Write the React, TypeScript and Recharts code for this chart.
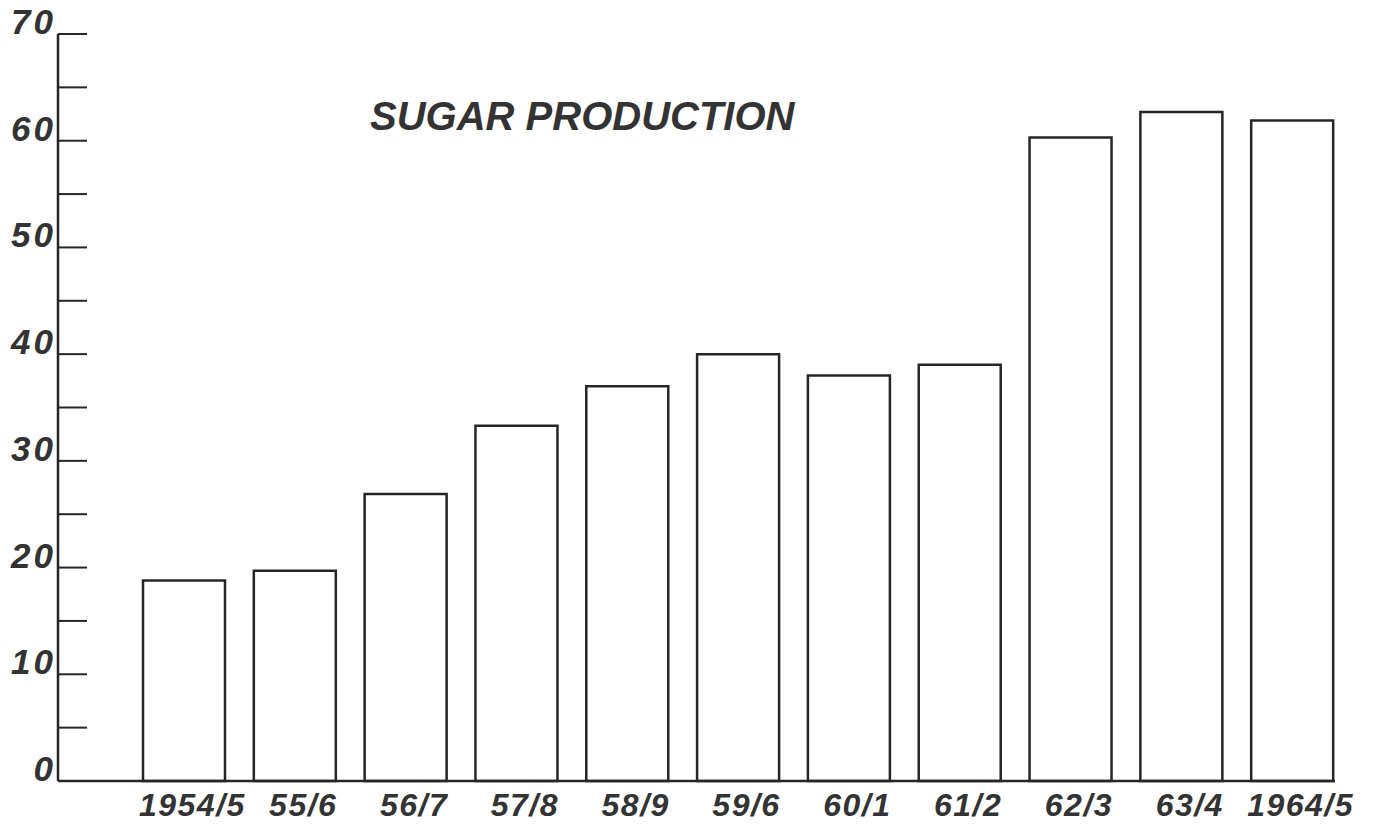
import { BarChart, Bar, XAxis, YAxis } from 'recharts'

const seasons = ['1954/5', '55/6', '56/7', '57/8', '58/9', '59/6', '60/1', '61/2', '62/3', '63/4', '1964/5']
const production = [18.8, 19.7, 26.9, 33.3, 37.0, 40.0, 38.0, 39.0, 60.3, 62.7, 61.9]
const yTicks = [0, 5, 10, 15, 20, 25, 30, 35, 40, 45, 50, 55, 60, 65, 70]
const title = 'SUGAR PRODUCTION'

const ink = '#262626'
const lettering = 'Liberation Sans'

function YTick(props: any) {
  const { x, y, payload } = props
  const v = payload.value as number
  return (
    <g>
      <line x1={x} x2={x + 29} y1={y} y2={y} stroke={ink} strokeWidth={2} />
      {v % 10 === 0 && (
        <text x={x - 2} y={y} textAnchor="end" fontFamily={lettering} fontStyle="italic"
          fontWeight="bold" fontSize={35} letterSpacing={3} fill="#333">
          {v}
        </text>
      )}
    </g>
  )
}

function XTick(props: any) {
  const { x, y, payload } = props
  return (
    <text x={x + 8} y={y + 35} textAnchor="middle" fontFamily={lettering} fontStyle="italic"
      fontWeight="bold" fontSize={32} letterSpacing={1.5} fill="#333">
      {payload.value}
    </text>
  )
}

export default function App() {
  const data = seasons.map((s, i) => ({ season: s, value: production[i] }))

  return (
    <div style={{ width: 1383, height: 824, background: '#fff' }}>
      <style>{'body{margin:0}'}</style>
      <BarChart width={1383} height={824} data={data}
        margin={{ top: 34, right: 35, bottom: 0, left: 0 }}>
        <XAxis dataKey="season" height={43} padding={{ left: 71, right: 0 }}
          tickLine={false} tickSize={0} tickMargin={0} interval={0} tick={<XTick />}
          axisLine={{ stroke: ink, strokeWidth: 2.5, strokeDasharray: '1277 300' }} />
        <YAxis width={58} domain={[0, 70]} ticks={yTicks} interval={0}
          tickLine={false} tickSize={0} tickMargin={0} tick={<YTick />}
          axisLine={{ stroke: ink, strokeWidth: 2.5 }} />
        <Bar dataKey="value" barSize={82} fill="#fff" stroke={ink} strokeWidth={2.5}
          isAnimationActive={false} />
        <text x={370} y={130} fontFamily={lettering} fontWeight="bold" fontStyle="italic"
          fontSize={40} fill="#333">
          {title}
        </text>
      </BarChart>
    </div>
  )
}
